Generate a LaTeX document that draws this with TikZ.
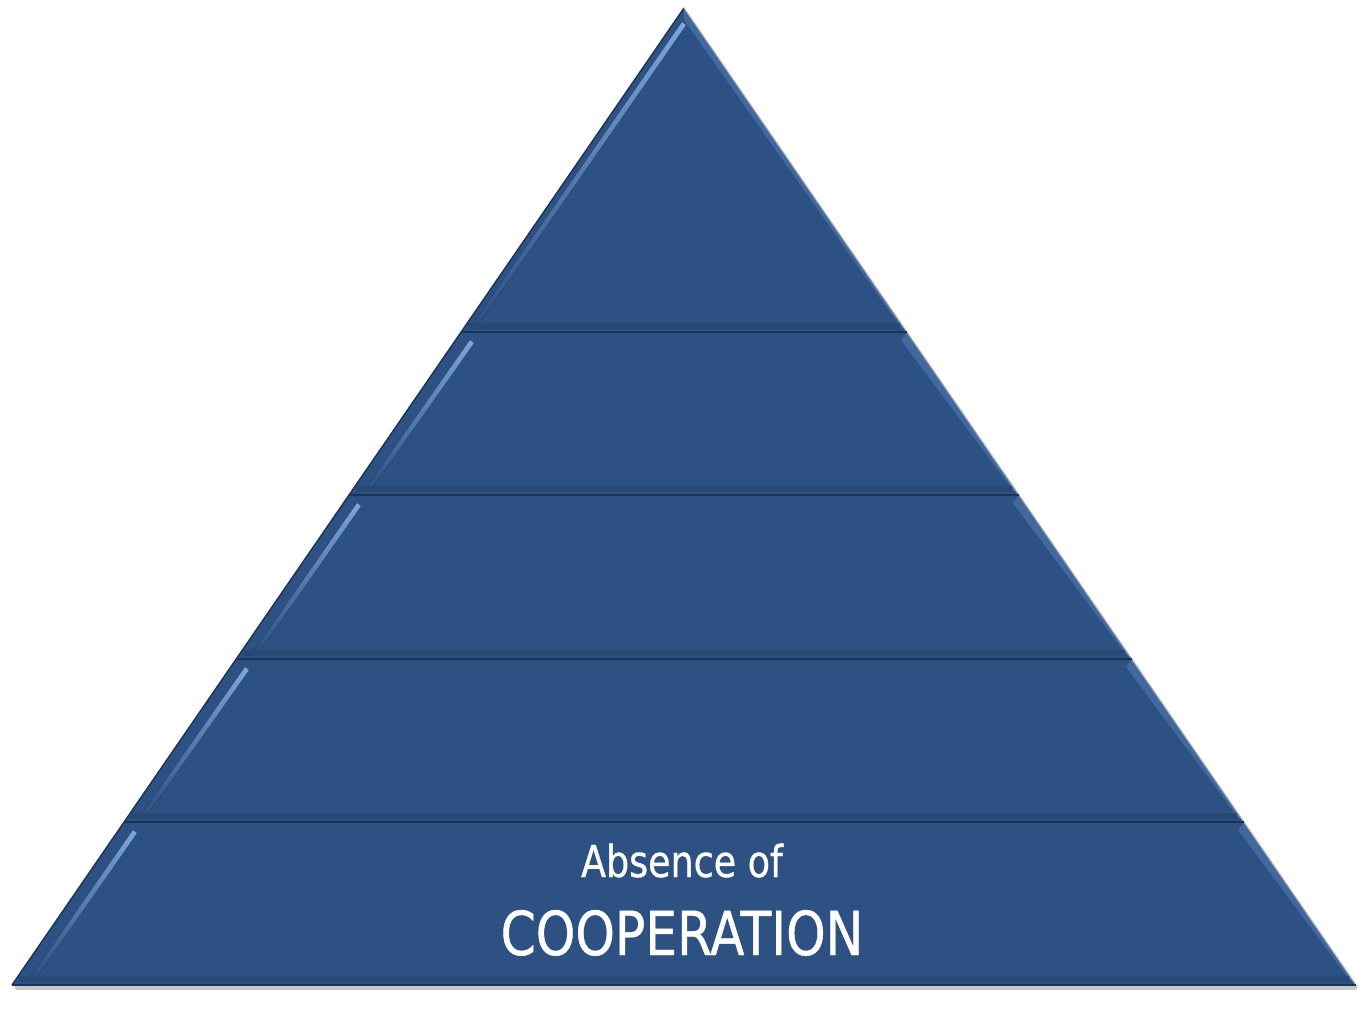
\documentclass[tikz,border=0pt]{standalone}
\usepackage{fontspec}
\newfontfamily\tah[FakeStretch=0.83,FakeBold=0.7]{DejaVu Sans}
\definecolor{pyr}{RGB}{46,81,131}
\definecolor{pyrdark}{RGB}{28,50,88}
\definecolor{pyrband}{RGB}{40,72,118}
\definecolor{pyrlight}{RGB}{125,165,220}
\definecolor{pyrmid}{RGB}{66,104,160}
\begin{document}
\begin{tikzpicture}[x=0.02cm,y=-0.02cm,
  layer/.style={fill=pyr},
  sep/.style={draw=pyrdark,line width=1.4pt},
  band/.style={draw=pyrband,line width=3pt},
  hl/.style={top color=pyrlight,bottom color=pyr,draw=none},
  hr/.style={fill=pyrmid},
  lbl/.style={text=white,font=\tah,inner sep=0pt}]
\useasboundingbox (0,0) rectangle (1364,1013);
% soft shadow under base
\fill[black!22] (14,985) -- (1358,985) -- (1356,990) -- (16,990) -- cycle;
% layer corners
\coordinate (apex) at (684,8);
\coordinate (l1) at (461.1,332); \coordinate (r1) at (906.9,332);
\coordinate (l2) at (349.0,495); \coordinate (r2) at (1019.0,495);
\coordinate (l3) at (236.2,659); \coordinate (r3) at (1131.8,659);
\coordinate (l4) at (124.1,822); \coordinate (r4) at (1243.9,822);
\coordinate (l5) at (12,985);    \coordinate (r5) at (1356,985);
% layers
\fill[layer] (apex) -- (r1) -- (l1) -- cycle;
\fill[layer] (l1) -- (r1) -- (r2) -- (l2) -- cycle;
\fill[layer] (l2) -- (r2) -- (r3) -- (l3) -- cycle;
\fill[layer] (l3) -- (r3) -- (r4) -- (l4) -- cycle;
\fill[layer] (l4) -- (r4) -- (r5) -- (l5) -- cycle;
% right outer bevel strips
\fill[hr] (apex) -- (r1) -- ++(-7,-6) -- (684,20) -- cycle;
\fill[hr] (r1) -- (r2) -- ++(-7,-6) -- (901,340) -- cycle;
\fill[hr] (r2) -- (r3) -- ++(-7,-6) -- (1013,503) -- cycle;
\fill[hr] (r3) -- (r4) -- ++(-7,-6) -- (1126,667) -- cycle;
\fill[hr] (r4) -- (r5) -- ++(-7,-6) -- (1238,830) -- cycle;
% left glossy highlights
\fill[hl] (682,22) -- (686,25) -- (480,322) -- (474,322) -- cycle;
\fill[hl] (470,340) -- (474,343) -- (372,488) -- (366,488) -- cycle;
\fill[hl] (357,503) -- (361,506) -- (259,652) -- (253,652) -- cycle;
\fill[hl] (245,667) -- (249,670) -- (147,815) -- (141,815) -- cycle;
\fill[hl] (133,830) -- (137,833) -- (36,978) -- (30,978) -- cycle;
% bottom dark bands
\draw[band] (468,326) -- (900,326);
\draw[band] (356,489) -- (1012,489);
\draw[band] (243,653) -- (1125,653);
\draw[band] (131,816) -- (1237,816);
\draw[band] (19,979) -- (1349,979);
% outer edges
\draw[pyrdark,line width=0.8pt] (l5) -- (apex);
\draw[black!30,line width=0.6pt] (apex) -- (r5);
% separators
\draw[sep] (l1) -- (r1);
\draw[sep] (l2) -- (r2);
\draw[sep] (l3) -- (r3);
\draw[sep] (l4) -- (r4);
\draw[pyrdark,line width=1.2pt] (l5) -- (r5);
% text
\node[lbl,anchor=base,font=\tah\fontsize{25}{30}\selectfont] (t1) at (682,877) {Absence of};
\node[lbl,anchor=base,font=\tah\fontsize{34.5}{40}\selectfont] (t2) at (682,955) {COOPERATION};
\end{tikzpicture}
\end{document}
